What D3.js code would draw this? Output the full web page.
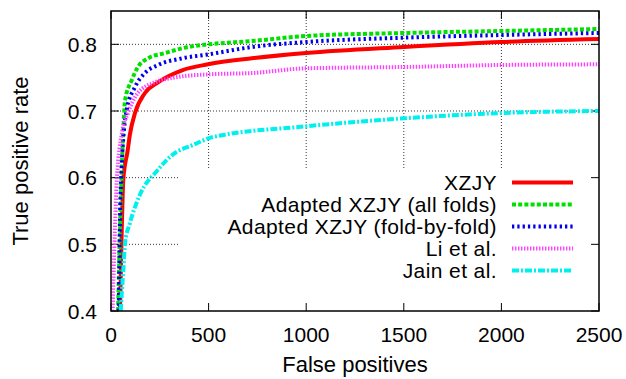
<!DOCTYPE html>
<html>
<head>
<meta charset="utf-8">
<script src="https://cdn.jsdelivr.net/npm/d3@7"></script>
<style>
  body { margin: 0; background: #fff; }
  text { font-family: "Liberation Sans", Arial, sans-serif; fill: #000; }
</style>
</head>
<body>
<div id="chart"></div>
<script>
// Series data (false positives, true positive rate)
const xzjyFP = [46, 55, 63, 85, 97, 123, 174, 241, 364, 497, 722, 1000, 1500, 2000, 2500];
const xzjyTPR = [0.40, 0.52, 0.597, 0.64, 0.665, 0.697, 0.727, 0.743, 0.761, 0.770, 0.779, 0.787, 0.796, 0.8035, 0.808];

const allFoldsFP = [36, 46, 56, 63, 72, 106, 138, 190, 277, 395, 500, 722, 1000, 1500, 2000, 2500];
const allFoldsTPR = [0.40, 0.52, 0.62, 0.67, 0.716, 0.746, 0.766, 0.779, 0.787, 0.796, 0.80, 0.805, 0.8125, 0.817, 0.82, 0.823];

const foldByFoldFP = [40, 45, 55, 66, 80, 123, 174, 241, 364, 500, 722, 1000, 1500, 2000, 2500];
const foldByFoldTPR = [0.40, 0.52, 0.62, 0.67, 0.701, 0.736, 0.757, 0.769, 0.779, 0.785, 0.796, 0.8035, 0.81, 0.814, 0.817];

const liFP = [8, 20, 30, 56, 87, 138, 225, 343, 500, 722, 1000, 1500, 2000, 2500];
const liTPR = [0.40, 0.52, 0.597, 0.667, 0.697, 0.727, 0.743, 0.751, 0.755, 0.757, 0.764, 0.766, 0.769, 0.770];

const jainFP = [50, 56, 63, 72, 97, 149, 235, 318, 420, 523, 1000, 1500, 2000, 2500];
const jainTPR = [0.40, 0.43, 0.46, 0.502, 0.532, 0.575, 0.61, 0.635, 0.649, 0.661, 0.677, 0.689, 0.697, 0.70];

const seriesNames = ["XZJY", "Adapted XZJY (all folds)", "Adapted XZJY (fold-by-fold)", "Li et al.", "Jain et al."];
const xTicks = [0, 500, 1000, 1500, 2000, 2500];
const yTicks = [0.4, 0.5, 0.6, 0.7, 0.8];

// Dimensions
const width = 626;
const height = 379;
const margin = { top: 11, right: 27, bottom: 68, left: 111 };

const series = [
    { name: seriesNames[0], fp: xzjyFP, tpr: xzjyTPR, color: "#ff0000", dash: null, w: 4 },
    { name: seriesNames[1], fp: allFoldsFP, tpr: allFoldsTPR, color: "#00e000", dash: "4,2.2", w: 4 },
    { name: seriesNames[2], fp: foldByFoldFP, tpr: foldByFoldTPR, color: "#0000ee", dash: "2.3,3", w: 4 },
    { name: seriesNames[3], fp: liFP, tpr: liTPR, color: "#ff40ff", dash: "1.4,1.6", w: 4 },
    { name: seriesNames[4], fp: jainFP, tpr: jainTPR, color: "#00f0f0", dash: "7,2,2,2", w: 4 }
];

const xScale = d3.scaleLinear()
    .domain([0, 2500])
    .range([margin.left, width - margin.right]);

const yScale = d3.scaleLinear()
    .domain([0.4, 0.85])
    .range([height - margin.bottom, margin.top]);

const svg = d3.select("#chart")
    .append("svg")
    .attr("width", width)
    .attr("height", height);

// Grid lines (dotted)
const grid = svg.append("g").attr("class", "grid");
grid.selectAll(".vgrid")
    .data(xTicks.slice(1, -1))
    .enter().append("line")
    .attr("x1", d => xScale(d)).attr("x2", d => xScale(d))
    .attr("y1", margin.top).attr("y2", height - margin.bottom)
    .attr("stroke", "#000").attr("stroke-width", 0.8)
    .attr("stroke-dasharray", "1,2");
grid.selectAll(".hgrid")
    .data(yTicks.slice(1))
    .enter().append("line")
    .attr("x1", margin.left).attr("x2", width - margin.right)
    .attr("y1", d => yScale(d)).attr("y2", d => yScale(d))
    .attr("stroke", "#000").attr("stroke-width", 0.8)
    .attr("stroke-dasharray", "1,2");

// Legend box hides the grid behind it
svg.append("rect")
    .attr("x", 180).attr("y", 170)
    .attr("width", width - margin.right - 180 - 1)
    .attr("height", height - margin.bottom - 170)
    .attr("fill", "#fff");

// Inward ticks on all four sides
const tickLen = 8;
const ticks = svg.append("g").attr("stroke", "#000").attr("stroke-width", 1);
xTicks.forEach(t => {
    ticks.append("line").attr("x1", xScale(t)).attr("x2", xScale(t))
        .attr("y1", height - margin.bottom).attr("y2", height - margin.bottom - tickLen);
    ticks.append("line").attr("x1", xScale(t)).attr("x2", xScale(t))
        .attr("y1", margin.top).attr("y2", margin.top + tickLen);
});
yTicks.forEach(t => {
    ticks.append("line").attr("x1", margin.left).attr("x2", margin.left + tickLen)
        .attr("y1", yScale(t)).attr("y2", yScale(t));
    ticks.append("line").attr("x1", width - margin.right).attr("x2", width - margin.right - tickLen)
        .attr("y1", yScale(t)).attr("y2", yScale(t));
});

// Clip for curves
svg.append("clipPath").attr("id", "plot-clip")
    .append("rect")
    .attr("x", margin.left).attr("y", margin.top)
    .attr("width", width - margin.left - margin.right)
    .attr("height", height - margin.top - margin.bottom);

const line = d3.line()
    .x(d => xScale(d[0]))
    .y(d => yScale(d[1]))
    .curve(d3.curveMonotoneX);

const curves = svg.append("g").attr("clip-path", "url(#plot-clip)");
series.forEach(s => {
    curves.append("path")
        .datum(s.fp.map((f, i) => [f, s.tpr[i]]))
        .attr("d", line)
        .attr("fill", "none")
        .attr("stroke", s.color)
        .attr("stroke-width", s.w)
        .attr("stroke-dasharray", s.dash);
});

// Frame
svg.append("rect")
    .attr("x", margin.left).attr("y", margin.top)
    .attr("width", width - margin.left - margin.right)
    .attr("height", height - margin.top - margin.bottom)
    .attr("fill", "none")
    .attr("stroke", "#000")
    .attr("stroke-width", 1.5);

// Tick labels
svg.selectAll(".x-label")
    .data(xTicks)
    .enter().append("text")
    .attr("x", d => xScale(d))
    .attr("y", height - margin.bottom + 31)
    .style("text-anchor", "middle")
    .style("font-size", "21px")
    .text(d => d);

svg.selectAll(".y-label")
    .data(yTicks)
    .enter().append("text")
    .attr("x", margin.left - 14)
    .attr("y", d => yScale(d) + 7.5)
    .style("text-anchor", "end")
    .style("font-size", "21px")
    .text(d => d3.format(".1f")(d));

// Axis titles
svg.append("text")
    .attr("x", (margin.left + width - margin.right) / 2)
    .attr("y", 372)
    .style("text-anchor", "middle")
    .style("font-size", "22px")
    .text("False positives");

svg.append("text")
    .attr("transform", `translate(28,${(margin.top + height - margin.bottom) / 2}) rotate(-90)`)
    .style("text-anchor", "middle")
    .style("font-size", "22px")
    .text("True positive rate");

// Legend
const legend = svg.append("g");
series.forEach((s, i) => {
    const y = 182.5 + i * 22;
    legend.append("text")
        .attr("x", 497)
        .attr("y", y + 7.5)
        .style("text-anchor", "end")
        .style("font-size", "21px")
        .style("letter-spacing", "0.4px")
        .text(s.name);
    legend.append("line")
        .attr("x1", 512).attr("x2", 573)
        .attr("y1", y).attr("y2", y)
        .attr("stroke", s.color)
        .attr("stroke-width", s.w)
        .attr("stroke-dasharray", s.dash);
});
</script>
</body>
</html>
